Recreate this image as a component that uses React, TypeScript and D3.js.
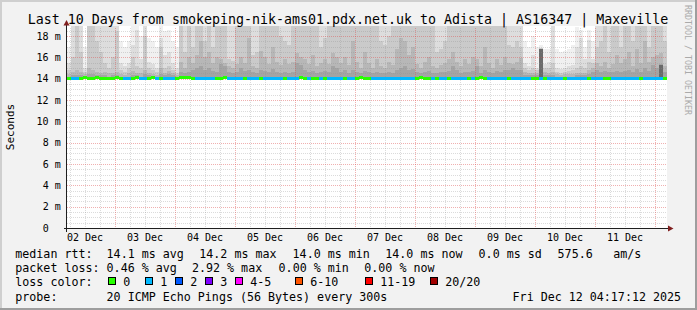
import React from "react";
import * as d3 from "d3";

const T = 19;

// outermost smoke band (ping 1..20) top, ms
const smokeP0 = [
  17.0, T, T, T, 17.0, T, T, T, T, T,
  T, T, T, 17.5, 17.0, 17.5, T, T, 18.0, T,
  17.8, 17.5, 17.0, T, 18.5, 18.6, 17.5, 17.0, T, T,
  T, T, T, T, T, T, T, T, T, T,
  T, T, T, T, T, T, T, T, T, T,
  T, T, T, T, T, T, T, T, T, T,
  T, T, T, T, T, T, T, T, T, T,
  T, T, T, T, T, T, T, T, T, T,
  T, T, T, T, T, T, T, T, T, T,
  T, T, T, T, T, T, T, T, T, T,
  T, T, T, T, T, T, T, T, T, T,
  T, T, T, T, 17.5, 17.0, 18.0, 17.0, 17.2, 16.8,
  16.8, T, 16.8, 16.5, 16.6, 16.8, 17.2, 18.8, 18.6, 17.0,
  18.6, 17.5, T, T, T, T, T, T, T, T,
  T, T, T, T, T, T, T, T, T, T,
];

const smokeP1 = [
  15.5, T, T, T, 15.0, T, T, T, T, T,
  T, T, T, 15.5, 15.2, 15.5, 17.2, 18.6, 15.8, T,
  15.6, 15.4, 15.0, 17.8, 16.2, 16.5, 15.5, 15.0, T, T,
  T, T, T, T, T, T, T, T, T, T,
  T, T, T, T, T, T, T, T, T, T,
  T, T, T, T, T, T, T, T, T, T,
  T, T, T, T, T, T, T, T, T, T,
  T, T, T, T, T, T, T, T, T, T,
  T, T, T, T, T, T, T, T, T, T,
  T, T, T, T, T, T, T, T, T, T,
  T, T, T, T, T, T, T, T, T, T,
  T, T, T, T, 15.5, 15.2, 16.2, 15.0, 16.9, 15.4,
  15.6, T, 15.0, 14.9, 15.0, 15.2, 15.3, 17.0, 17.8, 15.8,
  17.6, 15.8, T, T, T, T, T, T, T, T,
  T, T, T, T, T, T, T, T, T, T,
];

const smokeP2 = [
  14.8, 16.0, T, 16.5, 14.6, T, T, 17.5, 16.5, 15.5,
  15.0, 16.0, 18.5, 14.8, 14.6, 15.0, 16.0, 15.2, 15.0, 18.0,
  15.0, 14.8, 14.6, 17.0, 15.0, 15.2, 14.8, 14.5, T, 16.5,
  T, 17.0, T, T, 17.5, T, 17.0, T, T, T,
  15.8, 15.7, T, T, T, T, 16.2, 16.5, T, T,
  T, T, T, 18.0, 17.5, 17.2, T, T, T, T,
  T, T, T, 17.0, 17.8, T, T, T, T, T,
  T, T, T, T, T, T, T, T, 17.5, 17.2,
  18.0, T, T, T, T, T, T, T, T, T,
  T, T, 16.5, 16.8, 17.5, T, T, T, T, T,
  T, T, T, T, T, T, T, T, T, T,
  17.2, 17.0, 17.5, 17.0, 15.0, 14.8, 15.0, 14.8, 16.9, 15.0,
  15.0, 15.5, 14.6, 14.5, 14.6, 14.7, 14.8, 15.0, 15.2, 15.0,
  15.6, 15.5, 17.0, 17.5, T, 16.5, T, T, 17.0, T,
  T, 17.5, T, T, T, 17.0, T, T, T, 17.5,
];

const smokeP3 = [
  14.4, 14.6, 14.8, 14.6, 14.4, 15.0, 14.8, 14.6, 14.5, 14.6,
  14.5, 14.5, 14.6, 14.4, 14.3, 14.5, 14.7, 14.5, 14.5, 14.8,
  14.5, 14.4, 14.3, 15.0, 14.5, 14.7, 14.5, 14.3, 15.6, 15.0,
  16.0, 15.5, 16.2, 17.5, 16.0, 16.5, 15.5, 16.0, 15.8, 15.5,
  15.2, 15.0, 15.4, 16.0, 15.5, 17.8, 15.2, 15.0, 16.6, 16.0,
  15.4, 17.0, 15.6, 15.3, 15.8, 15.4, 15.6, 16.4, 16.0, 15.8,
  15.4, 16.2, 15.2, 15.5, 15.8, 15.4, 16.4, 16.0, 15.5, 16.0,
  15.3, 17.5, 15.6, 15.0, 16.5, 15.5, 15.0, 15.8, 15.2, 15.0,
  15.6, 15.3, 16.8, 17.8, 17.5, 16.2, 17.0, 15.4, 15.0, 15.6,
  16.0, 15.2, 15.0, 15.3, 15.5, 15.8, 16.5, 15.6, 15.2, 15.8,
  15.4, 16.0, 15.8, 15.2, 17.0, 15.5, 15.0, 15.8, 15.3, 16.0,
  15.5, 15.4, 15.6, 15.9, 14.6, 14.5, 14.5, 14.5, 16.8, 14.6,
  14.5, 14.6, 14.4, 14.3, 14.4, 14.4, 14.4, 14.5, 14.5, 14.5,
  14.8, 15.0, 15.5, 15.2, 15.6, 15.0, 15.4, 16.2, 15.5, 15.8,
  16.5, 15.2, 16.8, 15.5, 17.5, 15.6, 16.0, 16.2, 16.4, 15.2,
];

const smokeP4 = [
  14.2, 14.3, 14.3, 14.3, 14.2, 14.4, 14.4, 14.3, 14.3, 14.3,
  14.2, 14.3, 14.3, 14.2, 14.2, 14.2, 14.3, 14.3, 14.2, 14.4,
  14.3, 14.2, 14.2, 14.4, 14.3, 14.4, 14.3, 14.2, 14.6, 14.5,
  14.6, 14.8, 15.0, 15.2, 14.8, 15.0, 14.7, 14.6, 15.4, 15.2,
  14.6, 14.5, 14.6, 15.0, 14.7, 14.8, 14.6, 14.5, 14.8, 14.7,
  14.6, 14.9, 14.6, 14.5, 14.6, 14.5, 14.6, 15.5, 15.3, 14.8,
  14.6, 14.7, 14.5, 14.6, 14.7, 14.6, 15.2, 15.0, 14.6, 14.8,
  14.5, 14.8, 14.6, 14.5, 14.7, 14.6, 14.5, 14.6, 14.5, 14.5,
  14.6, 14.5, 14.8, 15.0, 15.2, 14.8, 14.9, 14.6, 14.5, 14.6,
  14.7, 14.5, 14.5, 14.6, 14.6, 14.7, 15.2, 14.8, 14.5, 14.6,
  14.6, 14.7, 15.2, 14.5, 14.8, 14.6, 14.5, 14.7, 14.6, 14.8,
  14.8, 15.0, 14.8, 14.8, 14.3, 14.3, 14.3, 14.3, 16.8, 14.3,
  14.3, 14.3, 14.2, 14.2, 14.2, 14.2, 14.2, 14.3, 14.3, 14.3,
  14.4, 14.6, 14.8, 14.6, 14.7, 14.6, 14.6, 14.7, 14.6, 14.7,
  14.8, 14.6, 14.9, 14.6, 15.0, 14.7, 15.3, 15.0, 15.4, 14.6,
];

// darkest inner core, only where visible
const darkCoreCols = [118, 148];
const darkCoreMs = [16.8, 15.3];

const medianMs = [
  14.05, 14.0, 14.0, 14.05, 14.1, 14.05, 14.05, 14.1, 14.05, 14.05,
  14.05, 14.05, 14.1, 14.05, 14.0, 14.0, 14.05, 14.1, 14.0, 14.0,
  14.05, 14.1, 14.0, 14.05, 14.0, 14.0, 14.0, 14.05, 14.1, 14.1,
  14.1, 14.05, 14.0, 14.0, 14.0, 14.0, 14.0, 14.05, 14.05, 14.1,
  14.0, 14.0, 14.0, 14.0, 14.05, 14.0, 14.0, 14.0, 14.05, 14.0,
  14.0, 14.0, 14.0, 14.0, 14.05, 14.0, 14.0, 14.0, 14.1, 14.05,
  14.0, 14.05, 14.05, 14.0, 14.05, 14.0, 14.0, 14.0, 14.0, 14.05,
  14.0, 14.0, 14.05, 14.1, 14.05, 14.05, 14.0, 14.0, 14.0, 14.0,
  14.0, 14.0, 14.0, 14.0, 14.0, 14.0, 14.0, 14.05, 14.1, 14.05,
  14.05, 14.0, 14.05, 14.0, 14.0, 14.05, 14.0, 14.0, 14.0, 14.0,
  14.05, 14.0, 14.05, 14.1, 14.05, 14.0, 14.0, 14.0, 14.0, 14.0,
  14.05, 14.0, 14.0, 14.0, 14.0, 14.0, 14.05, 14.05, 14.0, 14.05,
  14.0, 14.0, 14.0, 14.0, 14.05, 14.0, 14.0, 14.0, 14.0, 14.0,
  14.05, 14.0, 14.0, 14.0, 14.05, 14.05, 14.0, 14.0, 14.0, 14.0,
  14.0, 14.0, 14.0, 14.05, 14.0, 14.0, 14.0, 14.0, 14.0, 14.05,
];

const lossCount = [
  0, 1, 1, 0, 0, 0, 0, 0, 0, 0,
  0, 0, 0, 0, 1, 1, 0, 0, 1, 1,
  0, 0, 1, 0, 1, 1, 1, 0, 0, 0,
  0, 0, 1, 1, 1, 1, 1, 0, 0, 0,
  1, 1, 1, 1, 0, 1, 1, 1, 0, 1,
  1, 1, 1, 1, 0, 1, 1, 1, 0, 0,
  1, 0, 0, 1, 0, 1, 1, 1, 1, 0,
  1, 1, 0, 0, 0, 0, 1, 1, 1, 1,
  1, 1, 1, 1, 1, 1, 1, 0, 0, 0,
  0, 1, 0, 1, 1, 0, 1, 1, 1, 1,
  0, 1, 0, 0, 0, 1, 1, 1, 1, 1,
  0, 1, 1, 1, 1, 1, 0, 0, 1, 0,
  1, 1, 1, 1, 0, 1, 1, 1, 1, 1,
  0, 1, 1, 1, 0, 0, 1, 1, 1, 1,
  1, 1, 1, 0, 1, 1, 1, 1, 1, 0,
];

const yTickValues = [0, 2, 4, 6, 8, 10, 12, 14, 16, 18];
const yTickLabels = ["0\u00a0\u00a0", "2 m", "4 m", "6 m", "8 m", "10 m", "12 m", "14 m", "16 m", "18 m"];

const lossLabels = ["0", "1", "2", "3", "4-5", "6-10", "11-19", "20/20"];
const lossColors = ["#26ff00", "#00b8ff", "#0059ff", "#7e00ff", "#ff00ff", "#ff5500", "#ff0000", "#a00000"];

const rttTexts = ["median rtt:", "14.1 ms avg", "14.2 ms max", "14.0 ms min", "14.0 ms now", "0.0 ms sd", "575.6", "am/s"];
const lossTexts = ["packet loss:", "0.46 % avg", "2.92 % max", "0.00 % min", "0.00 % now"];
const probeTexts = ["probe:", "20 ICMP Echo Pings (56 Bytes) every 300s"];
const stampText = "Fri Dec 12 04:17:12 2025";
const titleText = "Last 10 Days from smokeping-nik-ams01.pdx.net.uk to Adista | AS16347 | Maxeville";

const smokeLayers = [
  { data: smokeP0, color: "#f0f0f0" },
  { data: smokeP1, color: "#dddddd" },
  { data: smokeP2, color: "#cacaca" },
  { data: smokeP3, color: "#b7b7b7" },
  { data: smokeP4, color: "#a4a4a4" },
];

export default function App() {
  const W = 697, H = 310;
  const left = 67, right = 667, top = 28, bottom = 228;
  const font = "'DejaVu Sans Mono', monospace";
  const t0 = new Date(Date.UTC(2025, 11, 2, 4, 48, 0));
  const t1 = new Date(Date.UTC(2025, 11, 12, 4, 48, 0));
  const x = d3.scaleUtc().domain([t0, t1]).range([left, right]);
  const y = d3.scaleLinear().domain([0, 18.75]).range([bottom, top]);
  const cols = d3.range(medianMs.length);
  const xc = d3.scaleBand<number>().domain(cols).range([left, right]);
  const bw = xc.bandwidth();

  const days = d3.utcDay.range(t0, t1);
  const sixH = d3.utcHour.every(6)!.range(t0, t1).filter((d) => d.getUTCHours() !== 0);
  const noons = d3.utcDay.range(d3.utcDay.offset(t0, -1), t1).map((d) => d3.utcHour.offset(d, 12)).filter((d) => d >= t0 && d <= t1);
  const fmt = d3.utcFormat("%d %b");
  const minorY = d3.range(0.5, 18.75, 0.5).filter((v) => v % 2 !== 0);
  const majorY = yTickValues.filter((v) => v > 0);
  const crisp = (v: number) => Math.round(v) + 0.5;

  const rowY = [257.5, 272, 286, 300.5];
  const rttX = [16, 107.3, 200, 293.3, 386, 479.3, 558.3, 614];
  const lossX = [16, 107.3, 192.7, 279.3, 365];
  const boxX = [108.5, 145.5, 175.5, 205.5, 235.5, 295.5, 365.5, 430.5];
  const legFs = 11.66;

  return (
    <svg width={W} height={H} style={{ position: "absolute", left: 0, top: 0, display: "block" }} fontFamily={font}>
      <defs>
        <clipPath id="plotclip">
          <rect x={left} y={top - 2} width={right - left} height={bottom - top + 2} />
        </clipPath>
      </defs>
      <rect x={0} y={0} width={W} height={H} fill="#f2f2f2" />
      {/* 3d border */}
      <rect x={0} y={0} width={W} height={2} fill="#cfcfcf" />
      <rect x={0} y={0} width={2} height={H} fill="#cfcfcf" />
      <rect x={0} y={H - 2} width={W} height={2} fill="#9e9e9e" />
      <rect x={W - 2} y={0} width={2} height={H} fill="#9e9e9e" />

      <rect x={left} y={top - 2} width={right - left} height={bottom - top + 2} fill="#ffffff" />

      <g clipPath="url(#plotclip)" shapeRendering="crispEdges">
        {smokeLayers.map((layer, li) => (
          <g key={li}>
            {cols.map((i) => {
              const yt = y(layer.data[i]);
              const yb = y(medianMs[i]) + 1;
              return <rect key={i} x={xc(i)} y={yt} width={bw} height={Math.max(0, yb - yt)} fill={layer.color} />;
            })}
          </g>
        ))}
        {darkCoreCols.map((c, k) => {
          const yt = y(darkCoreMs[k]);
          const yb = y(medianMs[c]) + 1;
          return <rect key={"dc" + k} x={xc(c)} y={yt} width={bw} height={yb - yt} fill="#6b6b6b" />;
        })}
      </g>

      {/* grid */}
      <g strokeDasharray="1,1" strokeWidth={1}>
        {minorY.map((v) => (
          <line key={"my" + v} x1={left} x2={right} y1={crisp(y(v))} y2={crisp(y(v))} stroke="rgba(143,143,143,0.32)" />
        ))}
        {sixH.map((d) => (
          <line key={"mx" + +d} x1={crisp(x(d))} x2={crisp(x(d))} y1={top} y2={bottom} stroke="rgba(143,143,143,0.32)" />
        ))}
        {majorY.map((v) => (
          <line key={"My" + v} x1={left} x2={right} y1={crisp(y(v))} y2={crisp(y(v))} stroke="rgba(222,79,79,0.45)" />
        ))}
        {days.map((d) => (
          <line key={"Mx" + +d} x1={crisp(x(d))} x2={crisp(x(d))} y1={top} y2={bottom} stroke="rgba(222,79,79,0.45)" />
        ))}
      </g>

      {/* median line coloured by loss */}
      <g shapeRendering="crispEdges">
        {cols.map((i) => (
          <rect key={"m" + i} x={xc(i)} y={y(medianMs[i]) - 1.5} width={bw} height={3} fill={lossColors[lossCount[i]]} />
        ))}
      </g>

      {/* axes */}
      <line x1={64} x2={669} y1={bottom + 0.5} y2={bottom + 0.5} stroke="#1f1f1f" strokeWidth={1} />
      <line x1={left - 0.5} x2={left - 0.5} y1={bottom + 4} y2={24} stroke="#1f1f1f" strokeWidth={1} />
      <path d={`M668,225.5 L673.5,228.5 L668,231.5 Z`} fill="#801f1f" />
      <path d={`M63.5,25.5 L66.5,20 L69.5,25.5 Z`} fill="#801f1f" />

      {/* y tick labels */}
      {yTickValues.map((v, k) => (
        <text key={"yl" + v} x={60.7} y={y(v) + 3.6} fontSize={10} textAnchor="end" fill="#000">
          {yTickLabels[k]}
        </text>
      ))}
      {/* x labels */}
      {noons.map((d) => (
        <text key={"xl" + +d} x={x(d)} y={240.7} fontSize={10} textAnchor="middle" fill="#000">
          {fmt(d)}
        </text>
      ))}

      {/* title */}
      <text x={348} y={24} fontSize={13.3} textAnchor="middle" fill="#000">
        {titleText}
      </text>
      {/* y axis title */}
      <text transform={`translate(14,127) rotate(-90)`} fontSize={11} textAnchor="middle" fill="#000">
        Seconds
      </text>
      {/* watermark */}
      <text transform={`translate(684.5,5) rotate(90)`} fontSize={8.3} fill="#aaaaaa">
        RRDTOOL / TOBI OETIKER
      </text>

      {/* legend */}
      <g fontSize={legFs} fill="#000">
        {rttTexts.map((s, k) => (
          <text key={"r" + k} x={rttX[k] - 0.7} y={rowY[0]}>{s}</text>
        ))}
        {lossTexts.map((s, k) => (
          <text key={"l" + k} x={lossX[k] - 0.7} y={rowY[1]}>{s}</text>
        ))}
        <text x={16 - 0.7} y={rowY[2]}>loss color:</text>
        {lossLabels.map((s, k) => (
          <g key={"lc" + k}>
            <rect x={boxX[k]} y={277.5} width={7} height={7} fill={lossColors[k]} stroke="#000" strokeWidth={1} />
            <text x={boxX[k] + 14.8} y={rowY[2]}>{s}</text>
          </g>
        ))}
        {probeTexts.map((s, k) => (
          <text key={"p" + k} x={[16, 107.3][k] - 0.7} y={rowY[3]}>{s}</text>
        ))}
        <text x={513.3 - 0.7} y={rowY[3]}>{stampText}</text>
      </g>
    </svg>
  );
}
